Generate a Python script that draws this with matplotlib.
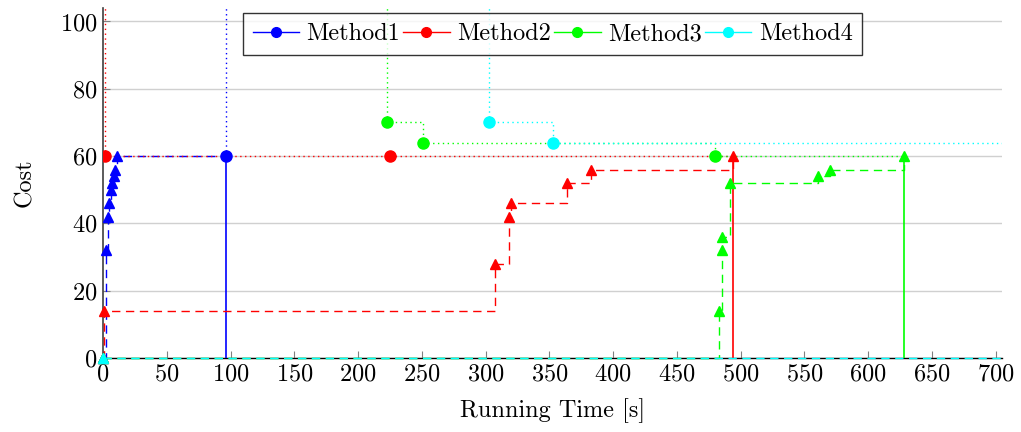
import matplotlib
matplotlib.use("Agg")
import matplotlib.pyplot as plt
from matplotlib.lines import Line2D

plt.rcParams['font.family'] = 'serif'
plt.rcParams['font.serif'] = ['cmr10', 'DejaVu Serif']
plt.rcParams['mathtext.fontset'] = 'cm'
plt.rcParams['axes.formatter.use_mathtext'] = True

NO_SOL = 1000.0      # upper bound before any solution found (off the chart)
TIME_LIMIT = 705
OPT = 60

methods = ["Method1", "Method2", "Method3", "Method4"]
colors = ["#0000ff", "#ff0000", "#00ff00", "#00ffff"]

# lower bounds (dashed, triangles)
m1_lb_t = [0, 2.4, 3.9, 4.7, 6.3, 7.1, 8.6, 9.4, 11, 96.4]
m1_lb_v = [0, 32, 42, 46, 50, 52, 54, 56, 60, 60]
m2_lb_t = [0, 1, 307, 318, 320, 364, 383, 494]
m2_lb_v = [0, 14, 28, 42, 46, 52, 56, 60]
m3_lb_t = [0, 483, 485, 485, 492, 561, 570, 628]
m3_lb_v = [0, 14, 32, 36, 52, 54, 56, 60]
m4_lb_t = [0, TIME_LIMIT]
m4_lb_v = [0, 0]

# upper bounds (dotted, circles)
m1_ub_t = [0, 96.4]
m1_ub_v = [NO_SOL, 60]
m2_ub_t = [0, 1.5, 225, 494]
m2_ub_v = [NO_SOL, 60, 60, 60]
m3_ub_t = [0, 223, 251, 480, 628]
m3_ub_v = [NO_SOL, 70, 64, 60, 60]
m4_ub_t = [0, 302.5, 352.7, TIME_LIMIT]
m4_ub_v = [NO_SOL, 70, 64, 64]

# time when solved to optimality
finish_t = [96.4, 494, 628, None]

lb = [(m1_lb_t, m1_lb_v), (m2_lb_t, m2_lb_v), (m3_lb_t, m3_lb_v), (m4_lb_t, m4_lb_v)]
ub = [(m1_ub_t, m1_ub_v), (m2_ub_t, m2_ub_v), (m3_ub_t, m3_ub_v), (m4_ub_t, m4_ub_v)]
lb_marks = [list(range(0, 9)), list(range(0, 8)), list(range(0, 8)), [0]]
ub_marks = [[1], [1, 2], [1, 2, 3], [1, 2]]

fig = plt.figure(figsize=(10.21, 4.32), dpi=100)
ax = fig.add_axes([0.1009, 0.1713, 0.8806, 0.8102])

FS = 17.5
for i, m in enumerate(methods):
    c = colors[i]
    t, v = ub[i]
    ax.step(t, v, where='post', color=c, lw=1.0, dashes=(1, 2.5), zorder=3)
    ax.plot([t[k] for k in ub_marks[i]], [v[k] for k in ub_marks[i]], 'o',
            color=c, ms=8, zorder=4)
    t, v = lb[i]
    ax.step(t, v, where='post', color=c, lw=1.0, dashes=(6, 4), zorder=3,
            clip_on=False)
    ax.plot([t[k] for k in lb_marks[i]], [v[k] for k in lb_marks[i]], '^',
            color=c, ms=6.5, zorder=4, clip_on=False)
    if finish_t[i] is not None:
        ax.vlines(finish_t[i], 0, OPT, color=c, lw=1.2, zorder=3)

ax.set_xlim(0, TIME_LIMIT)
ax.set_ylim(0, 104)
ax.set_xticks(range(0, 701, 50))
ax.set_yticks(range(0, 101, 20))
ax.yaxis.grid(True, color='#d0d0d0', lw=1.0, zorder=0)
ax.set_axisbelow(True)
for s in ['top', 'right']:
    ax.spines[s].set_visible(False)
ax.spines['left'].set_color('#404040')
ax.spines['bottom'].set_color('black')
ax.spines['left'].set_linewidth(1.2)
ax.spines['bottom'].set_linewidth(1.0)
ax.tick_params(direction='in', length=5, color='#808080', labelsize=FS, pad=4)

ax.set_xlabel("Running Time [s]", fontsize=FS, labelpad=9)
ax.set_ylabel("Cost", fontsize=FS, labelpad=17)

handles = [Line2D([0], [0], color=c, lw=1.0, marker='o', ms=7) for c in colors]
leg = ax.legend(handles, methods, loc='upper center', ncol=4, fontsize=FS,
                frameon=True, fancybox=False, edgecolor='black',
                bbox_to_anchor=(0.5, 0.985), handlelength=1.9,
                handletextpad=0.3, columnspacing=0.15, borderpad=0.4,
                borderaxespad=0.0)
leg.get_frame().set_linewidth(1.0)
leg.set_zorder(10)

fig.savefig("out.png", dpi=100)
